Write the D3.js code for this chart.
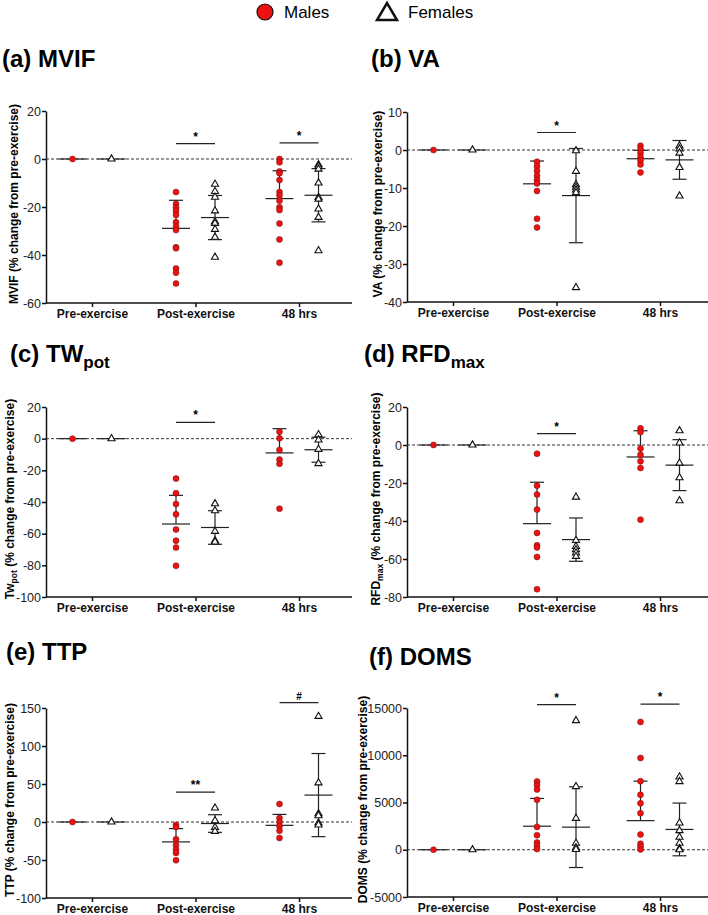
<!DOCTYPE html>
<html>
<head>
<meta charset="utf-8">
<script src="https://cdn.jsdelivr.net/npm/d3@7"></script>
<style>
	body { margin: 0; background: #fff; }
	svg { font-family: 'Liberation Sans', Arial, sans-serif; }
	.tick text { font-size: 12.5px; fill: #222; }
	.x-axis .tick text { font-size: 12px; font-weight: bold; fill: #111; }
	.domain, .tick line { stroke: #111; stroke-width: 1.5px; }
</style>
</head>
<body>
<svg id="chart-svg" width="708" height="915"></svg>
<script>
const CATEGORIES = ['Pre-exercise', 'Post-exercise', '48 hrs'];
const LEGEND_LABELS = ['Males', 'Females'];

// (a) MVIF
const mvifMale = [[0], [-13.8, -18.7, -20.2, -21.6, -23.3, -26.4, -28.2, -29.6, -36.8, -37.2, -45.6, -47.4, -51.9], [0, -1.4, -5.2, -5.9, -8.8, -13.8, -15.2, -17.4, -20.1, -21.3, -26.9, -33.5, -43.2]];
const mvifFemale = [[0], [-10.5, -13.5, -15.9, -21.6, -26.1, -26.8, -29.3, -32.6, -40.9], [-2.4, -3.1, -4.2, -10, -16, -16.7, -20.8, -24.3, -38.2]];
const mvifMaleMean = [0, -28.9, -16.5];
const mvifMaleSD = [0, 11.7, 11.6];
const mvifFemaleMean = [0, -24.4, -15.1];
const mvifFemaleSD = [0, 9.2, 11.1];
const mvifTicks = [20, 0, -20, -40, -60];
const mvifSig = [{ cat: 1, y: 6.4, label: '*' }, { cat: 2, y: 6.7, label: '*' }];

// (b) VA
const vaMale = [[0], [-3.1, -4.3, -5.5, -6.8, -7.9, -8.8, -10.8, -18.1, -20.4], [1.1, 0.2, -0.8, -1.9, -2.8, -3.8, -5.9]];
const vaFemale = [[0], [-0.2, -5.6, -9.1, -9.8, -10.5, -11.2, -36.2], [1.1, 0.3, -0.8, -4.6, -12.1]];
const vaMaleMean = [0, -8.9, -2.3];
const vaMaleSD = [0, 6.0, 2.2];
const vaFemaleMean = [0, -12.0, -2.6];
const vaFemaleSD = [0, 12.4, 5.1];
const vaTicks = [10, 0, -10, -20, -30, -40];
const vaSig = [{ cat: 1, y: 4.6, label: '*' }];

// (c) TWpot
const twMale = [[0], [-25.2, -34.4, -41.3, -47.8, -57.4, -64.4, -68.8, -80.3], [4.4, 0.2, -7.1, -13.2, -15.9, -44.2]];
const twFemale = [[0], [-41.1, -45.5, -58.5, -64.4, -65.2], [2.5, -0.8, -6.7, -15.7]];
const twMaleMean = [0, -53.9, -9.0];
const twMaleSD = [0, 18.1, 15.3];
const twFemaleMean = [0, -56.1, -7.0];
const twFemaleSD = [0, 10.6, 7.9];
const twTicks = [20, 0, -20, -40, -60, -80, -100];
const twSig = [{ cat: 1, y: 10.3, label: '*' }];

// (d) RFDmax
const rfdMale = [[0], [-4.6, -21.4, -26.1, -34.0, -46.3, -52.8, -53.9, -58.9, -75.9], [8.8, 6.8, -1.8, -5.1, -8.6, -12.1, -39.3]];
const rfdFemale = [[0], [-27.4, -50.2, -53.3, -55.1, -56.8, -58.6], [7.5, 1.1, -9.5, -17.2, -29.3]];
const rfdMaleMean = [0, -41.4, -6.3];
const rfdMaleSD = [0, 21.8, 13.8];
const rfdFemaleMean = [0, -49.8, -10.6];
const rfdFemaleSD = [0, 11.4, 13.4];
const rfdTicks = [20, 0, -20, -40, -60, -80];
const rfdSig = [{ cat: 1, y: 6.0, label: '*' }];

// (e) TTP
const ttpMale = [[0], [-3.9, -6.6, -22.7, -30.2, -35.9, -40.7, -50.3], [23.6, 5.2, 0, -5.7, -11.4, -21]];
const ttpFemale = [[0], [18.4, 1.7, -7.0, -12.3], [139, 51.6, 10.9, 8.3, -1.3, -3.9]];
const ttpMaleMean = [0, -26.2, -4.4];
const ttpMaleSD = [0, 17.5, 14.4];
const ttpFemaleMean = [0, -2.0, 35.4];
const ttpFemaleSD = [0, 11.6, 54.7];
const ttpTicks = [150, 100, 50, 0, -50, -100];
const ttpSig = [{ cat: 1, y: 39.4, label: '**' }, { cat: 2, y: 157, label: '#' }];

// (f) DOMS
const domsMale = [[0], [7220, 6830, 6380, 5290, 2420, 1540, 770, 420, 70], [13530, 9710, 7260, 5820, 4910, 3860, 1610, 630, 350, 35]];
const domsFemale = [[0], [13670, 6690, 3330, 700, 210, 35], [7710, 7220, 2840, 2030, 1330, 700, 105, 0]];
const domsMaleMean = [0, 2490, 3080];
const domsMaleSD = [0, 2940, 4180];
const domsFemaleMean = [0, 2390, 2150];
const domsFemaleSD = [0, 4270, 2790];
const domsTicks = [15000, 10000, 5000, 0, -5000];
const domsSig = [{ cat: 1, y: 15350, label: '*' }, { cat: 2, y: 15420, label: '*' }];

const svg = d3.select('#chart-svg');

// panel layout: axis box, title and y label placement
const panels = [
	{ title: '(a) MVIF', sub: '', ylab: 'MVIF', ysub: '', male: mvifMale, female: mvifFemale, mMean: mvifMaleMean, mSD: mvifMaleSD, fMean: mvifFemaleMean, fSD: mvifFemaleSD, ticks: mvifTicks, sig: mvifSig,
		x0: 46, x1: 352, yTop: 111, yBot: 303, tx: 2, ty: 67, lx: 18 },
	{ title: '(b) VA', sub: '', ylab: 'VA', ysub: '', male: vaMale, female: vaFemale, mMean: vaMaleMean, mSD: vaMaleSD, fMean: vaFemaleMean, fSD: vaFemaleSD, ticks: vaTicks, sig: vaSig,
		x0: 407, x1: 708, yTop: 112, yBot: 302, tx: 371, ty: 67, lx: 382 },
	{ title: '(c) TW', sub: 'pot', ylab: 'Tw', ysub: 'pot', male: twMale, female: twFemale, mMean: twMaleMean, mSD: twMaleSD, fMean: twFemaleMean, fSD: twFemaleSD, ticks: twTicks, sig: twSig,
		x0: 46, x1: 352, yTop: 407, yBot: 597, tx: 10, ty: 362, lx: 14 },
	{ title: '(d) RFD', sub: 'max', ylab: 'RFD', ysub: 'max', male: rfdMale, female: rfdFemale, mMean: rfdMaleMean, mSD: rfdMaleSD, fMean: rfdFemaleMean, fSD: rfdFemaleSD, ticks: rfdTicks, sig: rfdSig,
		x0: 407, x1: 708, yTop: 407, yBot: 597, tx: 364, ty: 362, lx: 380 },
	{ title: '(e) TTP', sub: '', ylab: 'TTP', ysub: '', male: ttpMale, female: ttpFemale, mMean: ttpMaleMean, mSD: ttpMaleSD, fMean: ttpFemaleMean, fSD: ttpFemaleSD, ticks: ttpTicks, sig: ttpSig,
		x0: 46, x1: 352, yTop: 708, yBot: 898, tx: 6, ty: 660, lx: 14 },
	{ title: '(f) DOMS', sub: '', ylab: 'DOMS', ysub: '', male: domsMale, female: domsFemale, mMean: domsMaleMean, mSD: domsMaleSD, fMean: domsFemaleMean, fSD: domsFemaleSD, ticks: domsTicks, sig: domsSig,
		x0: 407, x1: 708, yTop: 708, yBot: 897, tx: 369, ty: 665, lx: 367 }
];

const GROUP_OFFSET = 19.5;
const MEAN_HALF = 14;
const CAP_HALF = 7;
const triangle = d3.symbol().type(d3.symbolTriangle).size(22);

panels.forEach(drawPanel);
drawLegend();

function drawPanel(p) {
	const x = d3.scalePoint().domain(CATEGORIES).range([p.x0 + 46, p.x0 + 253]);
	const y = d3.scaleLinear().domain([d3.min(p.ticks), d3.max(p.ticks)]).range([p.yBot, p.yTop]);
	const g = svg.append('g');

	// title with optional subscript
	let t = g.append('text').attr('x', p.tx).attr('y', p.ty).attr('font-size', 24).attr('font-weight', 'bold').text(p.title);
	if (p.sub) t.append('tspan').attr('font-size', 17).attr('dy', 6).text(p.sub);

	// rotated y label
	let yl = g
		.append('text')
		.attr('transform', 'translate(' + p.lx + ',' + ((p.yTop + p.yBot) / 2 - 3) + ') rotate(-90)')
		.attr('text-anchor', 'middle')
		.attr('font-size', 12)
		.attr('font-weight', 'bold')
		.text(p.ylab);
	if (p.ysub) {
		yl.append('tspan').attr('font-size', 8.5).attr('dy', 3).text(p.ysub);
		yl.append('tspan').attr('dy', -3).text(' (% change from pre-exercise)');
	} else {
		yl.append('tspan').text(' (% change from pre-exercise)');
	}

	// axes (plain hyphen for negatives, like the original)
	g.append('g')
		.attr('class', 'y-axis')
		.attr('transform', 'translate(' + p.x0 + ',0)')
		.call(d3.axisLeft(y).tickValues(p.ticks).tickSize(4).tickSizeOuter(0).tickPadding(1).tickFormat((d) => String(d)));
	const xAxis = g
		.append('g')
		.attr('class', 'x-axis')
		.attr('transform', 'translate(0,' + p.yBot + ')')
		.call(d3.axisBottom(x).tickSize(4).tickSizeOuter(0).tickPadding(2));
	xAxis.select('.domain').attr('d', 'M' + p.x0 + ',0H' + p.x1);

	// dashed zero line
	g.append('line')
		.attr('x1', p.x0)
		.attr('x2', p.x1)
		.attr('y1', y(0))
		.attr('y2', y(0))
		.attr('stroke', '#333')
		.attr('stroke-width', 1)
		.attr('stroke-dasharray', '3,2');

	const bars = g.append('g').attr('stroke', '#222').attr('stroke-width', 1.2).attr('fill', 'none');
	CATEGORIES.forEach((c, i) => {
		const mx = x(c) - GROUP_OFFSET;
		const fx = x(c) + GROUP_OFFSET;
		// males: mean + upper SD only
		const mTop = y(p.mMean[i] + p.mSD[i]);
		bars.append('line').attr('x1', mx - MEAN_HALF).attr('x2', mx + MEAN_HALF).attr('y1', y(p.mMean[i])).attr('y2', y(p.mMean[i]));
		if (p.mSD[i] > 0) {
			bars.append('line').attr('x1', mx).attr('x2', mx).attr('y1', y(p.mMean[i])).attr('y2', mTop);
			bars.append('line').attr('x1', mx - CAP_HALF).attr('x2', mx + CAP_HALF).attr('y1', mTop).attr('y2', mTop);
		}
		// females: mean +/- SD
		const fTop = y(p.fMean[i] + p.fSD[i]);
		const fBot = y(p.fMean[i] - p.fSD[i]);
		bars.append('line').attr('x1', fx - MEAN_HALF).attr('x2', fx + MEAN_HALF).attr('y1', y(p.fMean[i])).attr('y2', y(p.fMean[i]));
		if (p.fSD[i] > 0) {
			bars.append('line').attr('x1', fx).attr('x2', fx).attr('y1', fTop).attr('y2', fBot);
			bars.append('line').attr('x1', fx - CAP_HALF).attr('x2', fx + CAP_HALF).attr('y1', fTop).attr('y2', fTop);
			bars.append('line').attr('x1', fx - CAP_HALF).attr('x2', fx + CAP_HALF).attr('y1', fBot).attr('y2', fBot);
		}

		// points
		g.append('g')
			.selectAll('circle')
			.data(p.male[i])
			.enter()
			.append('circle')
			.attr('cx', mx)
			.attr('cy', (d) => y(d))
			.attr('r', 3)
			.attr('fill', '#ee1111')
			.attr('stroke', '#661111')
			.attr('stroke-width', 0.5);
		g.append('g')
			.selectAll('path')
			.data(p.female[i])
			.enter()
			.append('path')
			.attr('d', triangle)
			.attr('transform', (d) => 'translate(' + fx + ',' + y(d) + ')')
			.attr('fill', '#fff')
			.attr('stroke', '#111')
			.attr('stroke-width', 1.1);
	});

	// significance bars
	p.sig.forEach((s) => {
		const c = CATEGORIES[s.cat];
		const sx1 = x(c) - GROUP_OFFSET;
		const sx2 = x(c) + GROUP_OFFSET;
		g.append('line')
			.attr('x1', sx1)
			.attr('x2', sx2)
			.attr('y1', y(s.y))
			.attr('y2', y(s.y))
			.attr('stroke', '#222')
			.attr('stroke-width', 1.2);
		g.append('text')
			.attr('x', (sx1 + sx2) / 2)
			.attr('y', y(s.y) - 3)
			.attr('text-anchor', 'middle')
			.attr('font-size', s.label === '#' ? 10 : 12)
			.attr('font-weight', 'bold')
			.text(s.label);
	});
}

function drawLegend() {
	const lg = svg.append('g');
	lg.append('circle').attr('cx', 265).attr('cy', 12).attr('r', 8).attr('fill', '#ee1111').attr('stroke', '#111').attr('stroke-width', 1.2);
	lg.append('text').attr('x', 284).attr('y', 18).attr('font-size', 17).text(LEGEND_LABELS[0]);
	lg.append('path').attr('d', 'M377,20L397,20L387,3Z').attr('fill', '#fff').attr('stroke', '#111').attr('stroke-width', 2.5).attr('stroke-linejoin', 'miter');
	lg.append('text').attr('x', 408).attr('y', 18).attr('font-size', 17).text(LEGEND_LABELS[1]);
}
</script>
</body>
</html>
